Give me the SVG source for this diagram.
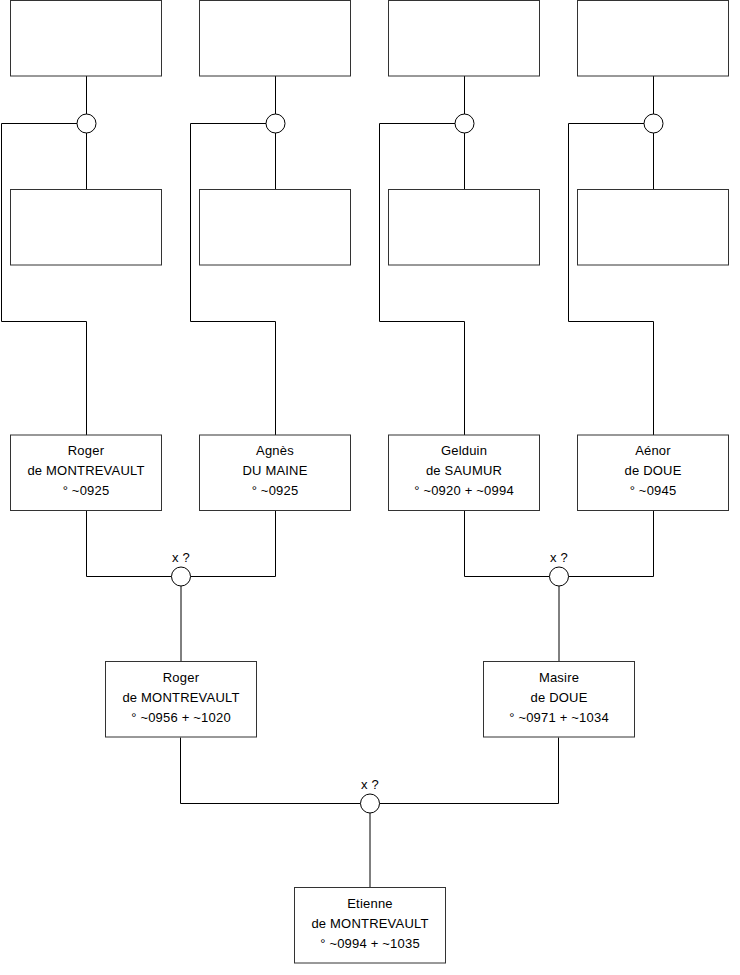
<svg xmlns="http://www.w3.org/2000/svg" width="740" height="975" viewBox="0 0 740 975">
<style>
.box{fill:#fff;stroke:#333;stroke-width:1}
.c{fill:#fff;stroke:#000;stroke-width:1}
.ln{fill:none;stroke:#000;stroke-width:1}
.t{font-family:"Liberation Sans",Arial,sans-serif;font-size:13px;letter-spacing:0.2px;fill:#000;text-anchor:middle}
</style>
<rect width="740" height="975" fill="#fff"/>
<g id="connectors">
<path class="ln" d="M86.5 76V189.5M77 123.5H1.5V321.5H86.5V435"/>
<path class="ln" d="M275.5 76V189.5M266 123.5H190.5V321.5H275.5V435"/>
<path class="ln" d="M464.5 76V189.5M455 123.5H379.5V321.5H464.5V435"/>
<path class="ln" d="M653.5 76V189.5M644 123.5H568.5V321.5H653.5V435"/>
<path class="ln" d="M86.5 510.5V576.5H171.5M275.5 510.5V576.5H190.5M181 586V661"/>
<path class="ln" d="M464.5 510.5V576.5H549.5M653.5 510.5V576.5H568.5M559 586V661"/>
<path class="ln" d="M180.5 737.5V803.5H360.5M558.5 737.5V803.5H379.5M370 813V887"/>
</g>
<g id="u1"><circle class="c" cx="86.5" cy="123.5" r="9.5"/></g>
<g id="u2"><circle class="c" cx="275.5" cy="123.5" r="9.5"/></g>
<g id="u3"><circle class="c" cx="464.5" cy="123.5" r="9.5"/></g>
<g id="u4"><circle class="c" cx="653.5" cy="123.5" r="9.5"/></g>
<g id="t1"><rect class="box" x="10.5" y="0.5" width="151" height="75.5"/></g>
<g id="t2"><rect class="box" x="199.5" y="0.5" width="151" height="75.5"/></g>
<g id="t3"><rect class="box" x="388.5" y="0.5" width="151" height="75.5"/></g>
<g id="t4"><rect class="box" x="577.5" y="0.5" width="151" height="75.5"/></g>
<g id="m1"><rect class="box" x="10.5" y="189.5" width="151" height="75.5"/></g>
<g id="m2"><rect class="box" x="199.5" y="189.5" width="151" height="75.5"/></g>
<g id="m3"><rect class="box" x="388.5" y="189.5" width="151" height="75.5"/></g>
<g id="m4"><rect class="box" x="577.5" y="189.5" width="151" height="75.5"/></g>
<g id="roger1"><rect class="box" x="10.5" y="435" width="151" height="75.5"/>
<text class="t" x="86" y="455">Roger</text><text class="t" x="86" y="475">de MONTREVAULT</text><text class="t" x="86" y="495">° ~0925</text></g>
<g id="agnes"><rect class="box" x="199.5" y="435" width="151" height="75.5"/>
<text class="t" x="275" y="455">Agnès</text><text class="t" x="275" y="475">DU MAINE</text><text class="t" x="275" y="495">° ~0925</text></g>
<g id="gelduin"><rect class="box" x="388.5" y="435" width="151" height="75.5"/>
<text class="t" x="464" y="455">Gelduin</text><text class="t" x="464" y="475">de SAUMUR</text><text class="t" x="464" y="495">° ~0920 + ~0994</text></g>
<g id="aenor"><rect class="box" x="577.5" y="435" width="151" height="75.5"/>
<text class="t" x="653" y="455">Aénor</text><text class="t" x="653" y="475">de DOUE</text><text class="t" x="653" y="495">° ~0945</text></g>
<g id="u5"><circle class="c" cx="181" cy="576.5" r="9.5"/><text class="t" x="181" y="562">x ?</text></g>
<g id="u6"><circle class="c" cx="559" cy="576.5" r="9.5"/><text class="t" x="559" y="562">x ?</text></g>
<g id="roger2"><rect class="box" x="105.5" y="661.5" width="151" height="75.5"/>
<text class="t" x="181" y="682">Roger</text><text class="t" x="181" y="702">de MONTREVAULT</text><text class="t" x="181" y="722">° ~0956 + ~1020</text></g>
<g id="masire"><rect class="box" x="483.5" y="661.5" width="151" height="75.5"/>
<text class="t" x="559" y="682">Masire</text><text class="t" x="559" y="702">de DOUE</text><text class="t" x="559" y="722">° ~0971 + ~1034</text></g>
<g id="u7"><circle class="c" cx="370" cy="803.5" r="9.5"/><text class="t" x="370" y="789">x ?</text></g>
<g id="etienne"><rect class="box" x="294.5" y="887.5" width="151" height="75.5"/>
<text class="t" x="370" y="908">Etienne</text><text class="t" x="370" y="928">de MONTREVAULT</text><text class="t" x="370" y="948">° ~0994 + ~1035</text></g>
</svg>
